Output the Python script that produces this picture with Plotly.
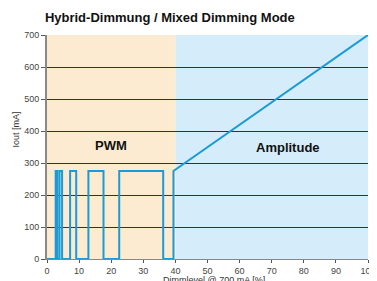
import plotly.graph_objects as go

# PWM region step waveform (Dimmlevel %, Iout mA)
pwm_x = [0, 2.7, 2.7, 3.2, 3.2, 3.9, 3.9, 4.7, 4.7, 7.2, 7.2, 9.1, 9.1,
         12.9, 12.9, 17.6, 17.6, 22.5, 22.5, 36.2, 36.2, 39.4, 39.4, 100]
pwm_y = [0, 0, 275, 275, 0, 0, 275, 275, 0, 0, 275, 275, 0,
         0, 275, 275, 0, 0, 275, 275, 0, 0, 275, 700]

pwm_range = [0, 40]
amp_range = [40, 100]
y_max = 700
y_ticks = [0, 100, 200, 300, 400, 500, 600, 700]
x_ticks = [0, 10, 20, 30, 40, 50, 60, 70, 80, 90, 100]

fig = go.Figure()
fig.add_trace(go.Scatter(x=pwm_x, y=pwm_y, mode="lines",
                         line=dict(color="#1a9bd7", width=2), hoverinfo="skip"))

fig.add_shape(type="rect", xref="x", yref="y", x0=pwm_range[0], x1=pwm_range[1],
              y0=0, y1=y_max, fillcolor="#fdebd1", line_width=0, layer="below")
fig.add_shape(type="rect", xref="x", yref="y", x0=amp_range[0], x1=amp_range[1],
              y0=0, y1=y_max, fillcolor="#d5ecfa", line_width=0, layer="below")

fig.add_annotation(x=20, y=355, text="<b>PWM</b>", showarrow=False,
                   font=dict(family="Liberation Sans, Arial", size=13, color="#111"))
fig.add_annotation(x=75, y=350, text="<b>Amplitude</b>", showarrow=False,
                   font=dict(family="Liberation Sans, Arial", size=13, color="#111"))

# axis titles as annotations (positions matched to reference)
fig.add_annotation(xref="paper", yref="paper", x=0.52, y=-0.092, text="Dimmlevel @ 700 mA [%]",
                   showarrow=False, xanchor="center", yanchor="middle",
                   font=dict(family="Liberation Sans, Arial", size=9, color="#333"))
fig.add_annotation(xref="paper", yref="paper", x=-0.098, y=0.576, text="Iout [mA]",
                   showarrow=False, textangle=-90, xanchor="center", yanchor="middle",
                   font=dict(family="Liberation Sans, Arial", size=9, color="#333"))

fig.update_layout(
    width=369, height=273,
    margin=dict(l=39, r=9, t=27, b=22, autoexpand=False),
    paper_bgcolor="white", plot_bgcolor="white",
    showlegend=False,
    title=dict(text="<b>Hybrid-Dimmung / Mixed Dimming Mode</b>", x=0.1, xref="container",
               xanchor="left", yref="container", y=0.967, yanchor="middle",
               font=dict(family="Liberation Sans, Arial", size=13, color="#111"),
               automargin=False),
    font=dict(family="Liberation Sans, Arial", size=9, color="#444"),
)
fig.update_xaxes(range=[0, 100], tickvals=x_ticks, showgrid=False, zeroline=False,
                 automargin=False,
                 ticks="outside", ticklen=3, tickcolor="#555",
                 showline=True, linecolor="#888", linewidth=1)
fig.update_yaxes(range=[0, 700], tickvals=y_ticks, showgrid=True, gridcolor="#333333",
                 automargin=False,
                 gridwidth=1.3, zeroline=False, ticks="outside", ticklen=4, tickcolor="#555",
                 showline=True, linecolor="#888", linewidth=2)

fig.write_html("out.html")
